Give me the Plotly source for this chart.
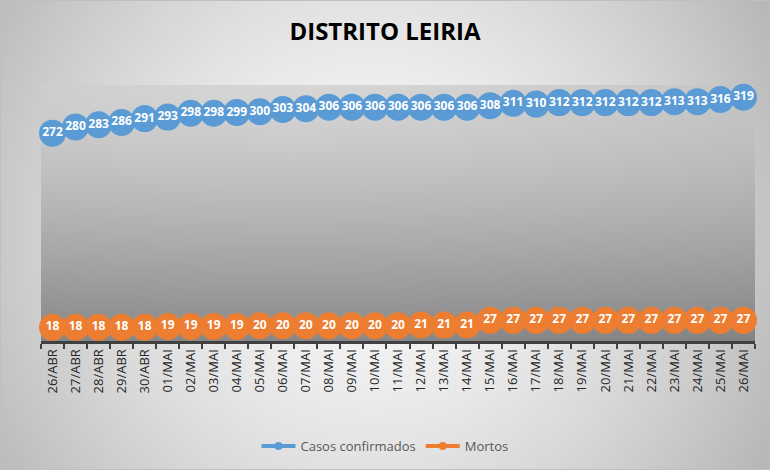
import base64, struct, zlib
import numpy as np
import plotly.graph_objects as go

# ---- data ----
dates = ["26/ABR", "27/ABR", "28/ABR", "29/ABR", "30/ABR",
         "01/MAI", "02/MAI", "03/MAI", "04/MAI", "05/MAI", "06/MAI", "07/MAI",
         "08/MAI", "09/MAI", "10/MAI", "11/MAI", "12/MAI", "13/MAI", "14/MAI",
         "15/MAI", "16/MAI", "17/MAI", "18/MAI", "19/MAI", "20/MAI", "21/MAI",
         "22/MAI", "23/MAI", "24/MAI", "25/MAI", "26/MAI"]
casos = [272, 280, 283, 286, 291, 293, 298, 298, 299, 300, 303, 304, 306, 306,
         306, 306, 306, 306, 306, 308, 311, 310, 312, 312, 312, 312, 312, 313,
         313, 316, 319]
mortos = [18, 18, 18, 18, 18, 19, 19, 19, 19, 20, 20, 20, 20, 20, 20, 20, 21,
          21, 21, 27, 27, 27, 27, 27, 27, 27, 27, 27, 27, 27, 27]

W, H = 770, 470
ML, MR, MT, MB = 41, 15, 85, 129
PW, PH = W - ML - MR, H - MT - MB


def png_uri(arr):
    h, w, _ = arr.shape
    raw = b"".join(b"\x00" + arr[y].tobytes() for y in range(h))

    def chunk(t, d):
        c = struct.pack(">I", len(d)) + t + d
        return c + struct.pack(">I", zlib.crc32(t + d) & 0xFFFFFFFF)

    png = (b"\x89PNG\r\n\x1a\n"
           + chunk(b"IHDR", struct.pack(">IIBBBBB", w, h, 8, 2, 0, 0, 0))
           + chunk(b"IDAT", zlib.compress(raw, 9))
           + chunk(b"IEND", b""))
    return "data:image/png;base64," + base64.b64encode(png).decode()


# outer radial gradient
yy, xx = np.mgrid[0:H, 0:W].astype(float)
r = np.sqrt(((xx - 370) / 400) ** 2 + 0.35 * ((yy - 230) / 240) ** 2)
c = np.clip(250 - 55 * r ** 1.5, 0, 255).astype(np.uint8)
outer = np.stack([c, c, c], axis=-1)

# plot-area gradient
yy, xx = np.mgrid[0:PH, 0:PW].astype(float)
r = np.sqrt(0.25 * ((xx - 0.35 * PW) / PW) ** 2 + (yy / PH) ** 2)
c = np.clip(214 - 78 * r ** 1.3, 0, 255).astype(np.uint8)
inner = np.stack([c, c, c], axis=-1)

BLUE = "#5B9BD5"
ORANGE = "#ED7D31"

fig = go.Figure()
fig.add_trace(go.Scatter(
    x=dates, y=casos, mode="lines+markers+text", text=[str(v) for v in casos],
    textposition="middle center",
    textfont=dict(family="Open Sans", size=12, color="white", weight="bold"),
    line=dict(color=BLUE, width=4), marker=dict(size=27, color=BLUE),
    showlegend=False, cliponaxis=False, hoverinfo="skip"))
fig.add_trace(go.Scatter(
    x=dates, y=mortos, mode="lines+markers+text", text=[str(v) for v in mortos],
    textposition="middle center",
    textfont=dict(family="Open Sans", size=12, color="white", weight="bold"),
    line=dict(color=ORANGE, width=4), marker=dict(size=27, color=ORANGE),
    showlegend=False, cliponaxis=False, hoverinfo="skip"))
# legend entries
fig.add_trace(go.Scatter(x=[None], y=[None], mode="lines+markers", name="Casos confirmados",
                         line=dict(color=BLUE, width=4), marker=dict(size=8, color=BLUE)))
fig.add_trace(go.Scatter(x=[None], y=[None], mode="lines+markers", name="Mortos",
                         line=dict(color=ORANGE, width=4), marker=dict(size=8, color=ORANGE)))

fig.update_layout(
    width=W, height=H,
    margin=dict(l=ML, r=MR, t=MT, b=MB),
    paper_bgcolor="rgba(0,0,0,0)", plot_bgcolor="rgba(0,0,0,0)",
    title=dict(text="<b>DISTRITO LEIRIA</b>", x=0.5, xref="container", xanchor="center",
               y=1 - 32 / H, yref="container", yanchor="middle",
               font=dict(family="Open Sans", size=24, color="#000000")),
    xaxis=dict(type="category", showgrid=False, zeroline=False,
               showline=True, linecolor="#404040", linewidth=3,
               ticks="outside", tickson="boundaries", ticklen=5, tickwidth=2,
               tickcolor="#404040", tickangle=-90,
               tickfont=dict(family="Open Sans", size=13, color="#262626"),
               range=[-0.5, len(dates) - 0.5]),
    yaxis=dict(range=[0, 335], visible=False, showgrid=False, zeroline=False),
    legend=dict(orientation="h", xref="container", yref="container",
                x=0.5, xanchor="center", y=24 / H, yanchor="middle",
                font=dict(family="Open Sans", size=13, color="#595959"),
                bgcolor="rgba(0,0,0,0)", itemwidth=34),
    images=[
        dict(source=png_uri(outer), xref="paper", yref="paper",
             x=-ML / PW, y=1 + MT / PH, sizex=W / PW, sizey=H / PH,
             sizing="stretch", layer="below", xanchor="left", yanchor="top"),
        dict(source=png_uri(inner), xref="paper", yref="paper",
             x=0, y=1, sizex=1, sizey=1,
             sizing="stretch", layer="below", xanchor="left", yanchor="top"),
    ],
    shapes=[dict(type="rect", xref="paper", yref="paper",
                 x0=-ML / PW + 0.5 / PW, x1=1 + MR / PW - 0.5 / PW,
                 y0=-MB / PH + 0.5 / PH, y1=1 + MT / PH - 0.5 / PH,
                 line=dict(color="#bfbfbf", width=1), layer="below")],
)

fig.write_html("out.html", config={"displayModeBar": False},
               post_script="document.body.style.margin='0';")
